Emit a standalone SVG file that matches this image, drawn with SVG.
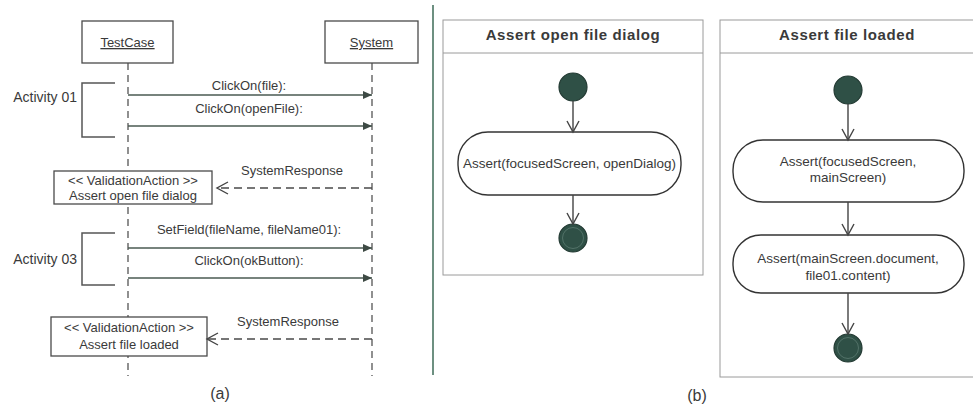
<svg xmlns="http://www.w3.org/2000/svg" width="973" height="406" viewBox="0 0 973 406">
  <style>
    .t { font-family: "Liberation Sans", Arial, sans-serif; fill: #3a3a3a; }
    .seq { font-size: 13px; text-anchor: middle; }
    .lbl { font-size: 13px; text-anchor: middle; }
    .act { font-size: 13.5px; text-anchor: middle; }
    .ttl { font-size: 15px; font-weight: bold; text-anchor: middle; letter-spacing: 0.6px; }
    .cap { font-size: 16px; text-anchor: middle; }
    .box { fill: #fff; stroke: #4a4a4a; stroke-width: 1.3; }
    .life { stroke: #555; stroke-width: 1.3; stroke-dasharray: 7 5; fill: none; }
    .msg { stroke: #4a5a52; stroke-width: 1.6; fill: none; }
    .ret { stroke: #4a4a4a; stroke-width: 1.4; stroke-dasharray: 8 5; fill: none; }
    .brk { stroke: #555; stroke-width: 1.5; fill: none; }
    .frame { fill: #fff; stroke: #9a9a9a; stroke-width: 1; }
    .node { fill: #fff; stroke: #333; stroke-width: 1.4; }
    .flow { stroke: #444; stroke-width: 1.4; fill: none; }
    .dot { fill: #2f5046; stroke: #233a33; stroke-width: 1.2; }
  </style>
  <defs>
    <marker id="solidHead" markerWidth="10" markerHeight="10" refX="9" refY="5" orient="auto" markerUnits="userSpaceOnUse">
      <path d="M0,1 L9,5 L0,9 Z" fill="#3d4a44"/>
    </marker>
    <marker id="openHead" markerWidth="14" markerHeight="14" refX="12" refY="7" orient="auto" markerUnits="userSpaceOnUse">
      <path d="M1,1 L12,7 L1,13" fill="none" stroke="#444" stroke-width="1.4"/>
    </marker>
  </defs>

  <rect width="973" height="406" fill="#fff"/>

  <!-- (a) sequence diagram -->
  <g id="lifelines">
    <line class="life" x1="128" y1="63" x2="128" y2="376"/>
    <line class="life" x1="372" y1="63" x2="372" y2="376"/>
  </g>

  <g id="testcase">
    <rect class="box" x="82" y="21" width="91" height="42"/>
    <text class="t lbl" x="127.5" y="47" text-decoration="underline">TestCase</text>
  </g>
  <g id="system">
    <rect class="box" x="325" y="21" width="93" height="42"/>
    <text class="t lbl" x="371.5" y="47" text-decoration="underline">System</text>
  </g>

  <g id="activity01">
    <path class="brk" d="M115 83 H82 V137 H115"/>
    <text class="t" font-size="14" x="77" y="102" text-anchor="end">Activity 01</text>
  </g>
  <g id="activity03">
    <path class="brk" d="M115 233 H82 V285 H115"/>
    <text class="t" font-size="14" x="77" y="264" text-anchor="end">Activity 03</text>
  </g>

  <g id="validation1">
    <rect class="box" x="54" y="171" width="158" height="33"/>
    <text class="t seq" x="133" y="185">&lt;&lt; ValidationAction &gt;&gt;</text>
    <text class="t seq" x="133" y="200">Assert open file dialog</text>
  </g>
  <g id="validation2">
    <rect class="box" x="51" y="317" width="156" height="39"/>
    <text class="t seq" x="129" y="332">&lt;&lt; ValidationAction &gt;&gt;</text>
    <text class="t seq" x="129" y="349">Assert file loaded</text>
  </g>

  <g id="messages">
    <line class="msg" x1="128" y1="95" x2="372" y2="95" marker-end="url(#solidHead)"/>
    <text class="t seq" x="249" y="90">ClickOn(file):</text>
    <line class="msg" x1="128" y1="126" x2="372" y2="126" marker-end="url(#solidHead)"/>
    <text class="t seq" x="249" y="113">ClickOn(openFile):</text>
    <line class="ret" x1="372" y1="188" x2="217" y2="188" marker-end="url(#openHead)"/>
    <text class="t seq" x="292" y="175">SystemResponse</text>
    <line class="msg" x1="128" y1="248" x2="372" y2="248" marker-end="url(#solidHead)"/>
    <text class="t seq" x="249" y="234">SetField(fileName, fileName01):</text>
    <line class="msg" x1="128" y1="278" x2="372" y2="278" marker-end="url(#solidHead)"/>
    <text class="t seq" x="249" y="265">ClickOn(okButton):</text>
    <line class="ret" x1="372" y1="339" x2="207" y2="339" marker-end="url(#openHead)"/>
    <text class="t seq" x="288" y="326">SystemResponse</text>
  </g>

  <text class="t cap" x="220" y="399">(a)</text>

  <!-- divider between (a) and (b) -->
  <line x1="433" y1="5" x2="433" y2="375" stroke="#3d6b57" stroke-width="1.5"/>

  <!-- (b) activity: Assert open file dialog -->
  <g id="panel1">
    <rect class="frame" x="443" y="20" width="260" height="255"/>
    <line x1="443" y1="53" x2="703" y2="53" stroke="#9a9a9a" stroke-width="1"/>
    <text class="t ttl" x="573" y="40">Assert open file dialog</text>
  </g>
  <g id="p1-start"><circle class="dot" cx="573" cy="87" r="14"/></g>
  <g id="p1-assert">
    <rect class="node" x="458" y="132" width="223" height="63" rx="30"/>
    <text class="t act" x="569.5" y="168">Assert(focusedScreen, openDialog)</text>
  </g>
  <g id="p1-end">
    <circle class="dot" cx="573" cy="238" r="14"/>
    <circle cx="573" cy="238" r="10.5" fill="none" stroke="#5b7a70" stroke-width="0.8"/>
  </g>

  <!-- (b) activity: Assert file loaded -->
  <g id="panel2">
    <rect class="frame" x="720" y="20" width="260" height="357"/>
    <line x1="720" y1="53" x2="980" y2="53" stroke="#9a9a9a" stroke-width="1"/>
    <text class="t ttl" x="847" y="40">Assert file loaded</text>
  </g>
  <g id="p2-start"><circle class="dot" cx="848" cy="90" r="14"/></g>
  <g id="p2-assert1">
    <rect class="node" x="733" y="140" width="231" height="62" rx="30"/>
    <text class="t act" x="848" y="166">Assert(focusedScreen,</text>
    <text class="t act" x="848" y="182">mainScreen)</text>
  </g>
  <g id="p2-assert2">
    <rect class="node" x="733" y="235" width="231" height="58" rx="28"/>
    <text class="t act" x="848" y="263">Assert(mainScreen.document,</text>
    <text class="t act" x="848" y="280">file01.content)</text>
  </g>
  <g id="p2-end">
    <circle class="dot" cx="848" cy="348" r="14"/>
    <circle cx="848" cy="348" r="10.5" fill="none" stroke="#5b7a70" stroke-width="0.8"/>
  </g>

  <g id="flows">
    <line class="flow" x1="573" y1="101" x2="573" y2="132" marker-end="url(#openHead)"/>
    <line class="flow" x1="573" y1="195" x2="573" y2="224" marker-end="url(#openHead)"/>
    <line class="flow" x1="848" y1="104" x2="848" y2="140" marker-end="url(#openHead)"/>
    <line class="flow" x1="848" y1="202" x2="848" y2="235" marker-end="url(#openHead)"/>
    <line class="flow" x1="848" y1="293" x2="848" y2="334" marker-end="url(#openHead)"/>
  </g>

  <text class="t cap" x="697" y="401">(b)</text>
</svg>
